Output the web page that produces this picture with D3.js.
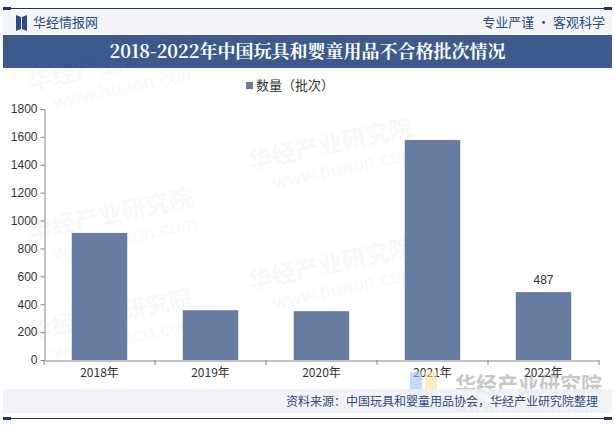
<!DOCTYPE html>
<html>
<head>
<meta charset="utf-8">
<script src="https://cdn.jsdelivr.net/npm/d3@7"></script>
<style>
  body { margin: 0; background: #fff; }
  text { font-family: "Liberation Sans", Arial, sans-serif; }
  .cn { font-family: "Noto Sans CJK SC", sans-serif; }
</style>
</head>
<body>
<div id="chart"></div>
<script>
const years = ['2018年', '2019年', '2020年', '2021年', '2022年'];
const counts = [911, 357, 350, 1578, 487];
const yTicks = [0, 200, 400, 600, 800, 1000, 1200, 1400, 1600, 1800];
const labelled = ['2022年'];

let w = 615, h = 429;
let navy = '#1f3864';
let barColor = '#687ca1';

var svg = d3.select('#chart').append('svg')
    .attr('width', w)
    .attr('height', h);

// header strip
svg.append('rect').attr('x', 3).attr('y', 9).attr('width', 609).attr('height', 26).attr('fill', '#f3f5f9');
svg.append('line').attr('x1', 3).attr('x2', 612).attr('y1', 8.5).attr('y2', 8.5)
    .attr('stroke', navy).attr('stroke-width', 1);
svg.append('rect').attr('x', 3).attr('y', 7).attr('width', 8).attr('height', 3).attr('fill', navy);
svg.append('rect').attr('x', 604).attr('y', 7).attr('width', 8).attr('height', 3).attr('fill', navy);

// logo
svg.append('path').attr('d', 'M16,15 L21,17 L21,29 L16,31 Z').attr('fill', '#2a4a80');
svg.append('path').attr('d', 'M27,15 L22,17 L22,29 L27,31 Z').attr('fill', '#2a4a80');
svg.append('text').attr('class', 'cn').attr('x', 33).attr('y', 27)
    .attr('font-size', 13).attr('fill', '#2a4a80').text('华经情报网');
svg.append('text').attr('class', 'cn').attr('x', 605).attr('y', 27)
    .attr('text-anchor', 'end').attr('font-size', 13).attr('fill', '#2a4a80')
    .text('专业严谨 • 客观科学');

// title band
svg.append('rect').attr('x', 3).attr('y', 35).attr('width', 609).attr('height', 33).attr('fill', '#3e5a8c');
svg.append('text').attr('x', w / 2).attr('y', 58)
    .attr('text-anchor', 'middle').attr('font-size', 18).attr('font-weight', 'bold')
    .attr('fill', '#fff').style('font-family', '"Noto Serif CJK SC", "DejaVu Serif", serif')
    .text('2018-2022年中国玩具和婴童用品不合格批次情况');

// watermarks
let marks = [[30, 90], [250, 170], [30, 240], [250, 290], [30, 340]];
marks.forEach(function(m) {
    svg.append('text').attr('class', 'cn').attr('x', m[0]).attr('y', m[1])
        .attr('font-size', 24).attr('font-weight', 'bold').attr('fill', '#000').attr('opacity', 0.025)
        .attr('transform', 'rotate(-12,' + m[0] + ',' + m[1] + ')')
        .text('华经产业研究院');
    svg.append('text').attr('x', m[0] + 20).attr('y', m[1] + 24)
        .attr('font-size', 20).attr('fill', '#000').attr('opacity', 0.025)
        .attr('transform', 'rotate(-12,' + m[0] + ',' + m[1] + ')')
        .text('www.huaon.com');
});

// scales
var xScale = d3.scaleBand()
    .domain(years)
    .range([44, 599])
    .paddingInner(0.5)
    .paddingOuter(0.25);

var yScale = d3.scaleLinear()
    .domain([0, 1800])
    .range([360, 109]);

// legend
svg.append('rect').attr('x', 246).attr('y', 82).attr('width', 7).attr('height', 7).attr('fill', barColor);
svg.append('text').attr('class', 'cn').attr('x', 256).attr('y', 90)
    .attr('font-size', 13).attr('fill', '#333').text('数量（批次）');

// bars
svg.selectAll('rect.bar')
    .data(counts)
    .enter()
    .append('rect')
    .attr('class', 'bar')
    .attr('x', function(d, i) { return xScale(years[i]); })
    .attr('y', function(d) { return yScale(d); })
    .attr('width', xScale.bandwidth())
    .attr('height', function(d) { return yScale(0) - yScale(d); })
    .attr('fill', barColor);

svg.selectAll('text.val')
    .data(counts.filter(function(d, i) { return labelled.indexOf(years[i]) >= 0; }))
    .enter()
    .append('text')
    .attr('class', 'val')
    .attr('x', function(d) { return xScale(years[counts.indexOf(d)]) + xScale.bandwidth() / 2; })
    .attr('y', function(d) { return yScale(d) - 8; })
    .attr('text-anchor', 'middle')
    .attr('font-size', 12)
    .attr('fill', '#333')
    .text(function(d) { return d; });

// axes
var yAxis = d3.axisLeft(yScale).tickValues(yTicks).tickFormat(d3.format('d')).tickSize(4).tickSizeOuter(0);
var gy = svg.append('g')
    .attr('class', 'y axis')
    .attr('transform', 'translate(44.5,0)')
    .call(yAxis);
gy.select('.domain').attr('stroke', '#888');
gy.selectAll('.tick line').attr('stroke', '#888');
gy.selectAll('.tick text').attr('font-size', 12).attr('fill', '#333')
    .style('font-family', '"Liberation Sans", Arial, sans-serif');

var xAxis = d3.axisBottom(xScale).tickSize(0).tickSizeOuter(0);
var gx = svg.append('g')
    .attr('class', 'x axis')
    .attr('transform', 'translate(0,360.5)')
    .call(xAxis);
gx.select('.domain').attr('stroke', '#888');
gx.selectAll('.tick text').attr('font-size', 12).attr('fill', '#333').attr('dy', '1.1em')
    .style('font-family', '"Noto Sans CJK SC", sans-serif');
// band boundary ticks
svg.selectAll('line.sep')
    .data(years.concat(['end']))
    .enter()
    .append('line')
    .attr('class', 'sep')
    .attr('x1', function(d, i) { return i < years.length ? xScale(d) - xScale.step() * 0.25 : 599; })
    .attr('x2', function(d, i) { return i < years.length ? xScale(d) - xScale.step() * 0.25 : 599; })
    .attr('y1', 360)
    .attr('y2', 365)
    .attr('stroke', '#888');

// bottom logo watermark
svg.append('rect').attr('x', 410).attr('y', 372).attr('width', 12).attr('height', 28).attr('fill', '#9cc3f2').attr('opacity', 0.6);
svg.append('rect').attr('x', 425).attr('y', 372).attr('width', 12).attr('height', 28).attr('fill', '#f5e3a6').attr('opacity', 0.6);
svg.append('text').attr('class', 'cn').attr('x', 455).attr('y', 392)
    .attr('font-size', 21).attr('font-weight', 'bold').attr('fill', '#777').attr('opacity', 0.4)
    .text('华经产业研究院');
svg.append('text').attr('x', 455).attr('y', 412)
    .attr('font-size', 15).attr('font-weight', 'bold').attr('fill', '#777').attr('opacity', 0.3)
    .attr('letter-spacing', 2).text('www.huaon.com');

// footer
svg.append('rect').attr('x', 3).attr('y', 389).attr('width', 609).attr('height', 24).attr('fill', '#eef1f6').attr('opacity', 0.85);
svg.append('text').attr('class', 'cn').attr('x', 598).attr('y', 406)
    .attr('text-anchor', 'end').attr('font-size', 12).attr('fill', '#2a4a80')
    .text('资料来源：中国玩具和婴童用品协会，华经产业研究院整理');
svg.append('line').attr('x1', 3).attr('x2', 612).attr('y1', 418.5).attr('y2', 418.5)
    .attr('stroke', navy).attr('stroke-width', 1);
svg.append('rect').attr('x', 3).attr('y', 417).attr('width', 8).attr('height', 3).attr('fill', navy);
svg.append('rect').attr('x', 604).attr('y', 417).attr('width', 8).attr('height', 3).attr('fill', navy);
</script>
</body>
</html>
